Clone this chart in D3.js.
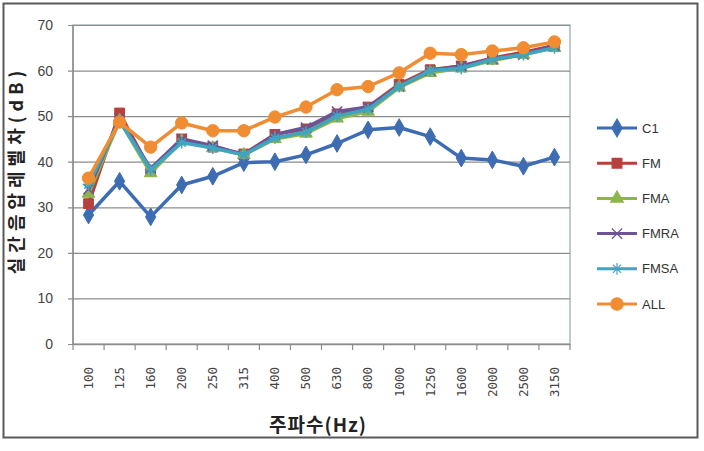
<!DOCTYPE html>
<html>
<head>
<meta charset="utf-8">
<script src="https://cdn.jsdelivr.net/npm/d3@7"></script>
<style>
body { margin: 0; background: #fff; }
svg { display: block; }
</style>
</head>
<body>
<div id="chart"></div>
<script>
// categories and series values
var freqs = ["100","125","160","200","250","315","400","500","630","800","1000","1250","1600","2000","2500","3150"];
var seriesNames = ["C1","FM","FMA","FMRA","FMSA","ALL"];
var c1   = [28.3,35.7,27.9,34.9,36.8,39.8,40.0,41.5,44.0,47.0,47.5,45.5,40.8,40.4,39.0,41.0];
var fm   = [30.8,50.7,38.0,45.0,43.2,41.7,46.0,47.2,50.5,52.0,57.0,60.2,61.0,62.7,64.0,65.5];
var fma  = [33.0,49.0,37.5,44.5,43.0,41.5,45.0,46.2,49.5,51.0,56.3,59.5,60.5,62.2,63.5,65.0];
var fmra = [34.0,49.5,38.5,45.0,43.5,41.5,46.0,47.5,51.0,52.0,56.5,60.0,61.0,62.5,63.5,65.5];
var fmsa = [35.0,49.0,38.2,44.2,43.0,41.5,45.2,46.5,50.0,51.5,56.5,60.0,60.5,62.5,63.5,65.0];
var all  = [36.4,48.7,43.2,48.5,46.8,46.8,49.8,52.0,55.8,56.5,59.5,63.8,63.5,64.3,65.0,66.3];
var yTicks = [0,10,20,30,40,50,60,70];

var seriesData = [c1, fm, fma, fmra, fmsa, all];
var colors = ["#3d6cb3","#b8403c","#8db54a","#6e5396","#3fa5c0","#f08c32"];
var shapes = [d3.symbolDiamond, d3.symbolSquare, d3.symbolTriangle, d3.symbolX, "star", d3.symbolCircle];
var symSizes = [90, 95, 70, 70, 70, 120];

var W = 704, H = 451;
var margin = {top: 25, right: 134, bottom: 107, left: 73};
var width = 570 - margin.left, height = 344 - margin.top;

var svg = d3.select("#chart").append("svg")
    .attr("width", W)
    .attr("height", H);

// outer chart border
svg.append("rect")
    .attr("x", 3.5).attr("y", 3.5)
    .attr("width", 694).attr("height", 434)
    .attr("fill", "#fff")
    .attr("stroke", "#5a5a5a")
    .attr("stroke-width", 2);

var g = svg.append("g")
    .attr("transform", "translate(" + margin.left + "," + margin.top + ")");

var x = d3.scaleBand().domain(freqs).range([0, width]);
var y = d3.scaleLinear().domain([0, 70]).range([height, 0]);

// plot area border
g.append("rect")
    .attr("width", width).attr("height", height)
    .attr("fill", "none")
    .attr("stroke", "#a9b9bf")
    .attr("stroke-width", 1.5);

// gridlines + y axis
var yAxis = g.append("g")
    .call(d3.axisLeft(y).tickValues(yTicks).tickSize(-width).tickPadding(20));
yAxis.select(".domain").remove();
yAxis.selectAll(".tick line")
    .attr("x1", -5)
    .attr("stroke", "#8c8c8c")
    .attr("stroke-width", 1.2);
yAxis.selectAll(".tick text")
    .style("font-family", "'Liberation Sans', Arial, sans-serif")
    .style("font-size", "14px")
    .attr("fill", "#444");
g.append("line")
    .attr("x1", 0).attr("x2", 0).attr("y1", 0).attr("y2", height)
    .attr("stroke", "#8c8c8c").attr("stroke-width", 1.5);

// x axis
var xAxis = g.append("g")
    .attr("transform", "translate(0," + height + ")")
    .call(d3.axisBottom(x).tickSize(0).tickPadding(0));
xAxis.select(".domain").attr("stroke", "#8c8c8c").attr("stroke-width", 1.5);
xAxis.selectAll(".tick text")
    .attr("transform", "rotate(-90)")
    .attr("x", -23)
    .attr("y", 0)
    .attr("dy", "0.35em")
    .style("text-anchor", "end")
    .style("font-family", "'DejaVu Sans Mono', monospace")
    .style("font-size", "12.5px")
    .attr("fill", "#444");
// category tick marks at band edges
xAxis.selectAll(".cat-tick")
    .data(d3.range(freqs.length + 1))
  .enter().append("line")
    .attr("x1", function(d) { return d * x.step(); })
    .attr("x2", function(d) { return d * x.step(); })
    .attr("y1", 0).attr("y2", 6)
    .attr("stroke", "#8c8c8c").attr("stroke-width", 1.2);

function symbolPath(shape, size) {
  if (shape === "star") {
    var r = Math.sqrt(size) * 0.7;
    return "M" + (-r) + ",0L" + r + ",0M0," + (-r) + "L0," + r +
      "M" + (-r*0.7) + "," + (-r*0.7) + "L" + (r*0.7) + "," + (r*0.7) +
      "M" + (-r*0.7) + "," + (r*0.7) + "L" + (r*0.7) + "," + (-r*0.7);
  }
  return d3.symbol().type(shape).size(size)();
}

var line = d3.line()
    .x(function(d, i) { return x(freqs[i]) + x.bandwidth() / 2; })
    .y(function(d) { return y(d); });

seriesData.forEach(function(vals, s) {
  var sg = g.append("g").attr("class", "series");
  sg.append("path")
      .datum(vals)
      .attr("fill", "none")
      .attr("stroke", colors[s])
      .attr("stroke-width", 3.5)
      .attr("stroke-linejoin", "round")
      .attr("d", line);
  var open = shapes[s] === d3.symbolX || shapes[s] === "star";
  sg.selectAll(".pt")
      .data(vals)
    .enter().append("path")
      .attr("transform", function(d, i) {
        return "translate(" + (x(freqs[i]) + x.bandwidth() / 2) + "," + y(d) + ")";
      })
      .attr("d", symbolPath(shapes[s], symSizes[s]))
      .attr("fill", open ? "none" : colors[s])
      .attr("stroke", colors[s])
      .attr("stroke-width", open ? 1.5 : 1);
});

// legend
var legend = svg.selectAll(".legend")
    .data(seriesNames)
  .enter().append("g")
    .attr("class", "legend")
    .attr("transform", function(d, i) { return "translate(597," + (128 + i * 35.2) + ")"; });
legend.append("line")
    .attr("x1", 0).attr("x2", 40)
    .attr("stroke", function(d, i) { return colors[i]; })
    .attr("stroke-width", 3);
legend.append("path")
    .attr("transform", "translate(20,0)")
    .attr("d", function(d, i) { return symbolPath(shapes[i], symSizes[i]); })
    .attr("fill", function(d, i) { return (i === 3 || i === 4) ? "none" : colors[i]; })
    .attr("stroke", function(d, i) { return colors[i]; })
    .attr("stroke-width", 1.2);
legend.append("text")
    .attr("x", 45)
    .attr("dy", "0.35em")
    .style("font-family", "'Liberation Sans', Arial, sans-serif")
    .style("font-size", "13px")
    .attr("fill", "#333")
    .text(function(d) { return d; });

// axis titles
svg.append("text")
    .attr("x", 318).attr("y", 432)
    .attr("text-anchor", "middle")
    .style("font-family", "'Noto Sans CJK KR', sans-serif")
    .style("font-size", "19px")
    .style("font-weight", "bold")
    .style("letter-spacing", "1px")
    .attr("fill", "#222")
    .text("주파수(Hz)");

svg.append("text")
    .attr("transform", "translate(23,170) rotate(-90)")
    .attr("text-anchor", "middle")
    .style("font-family", "'Noto Sans CJK KR', sans-serif")
    .style("font-size", "18px")
    .style("font-weight", "bold")
    .style("letter-spacing", "5px")
    .attr("fill", "#222")
    .text("실간음압레벨차(dB)");
</script>
</body>
</html>
